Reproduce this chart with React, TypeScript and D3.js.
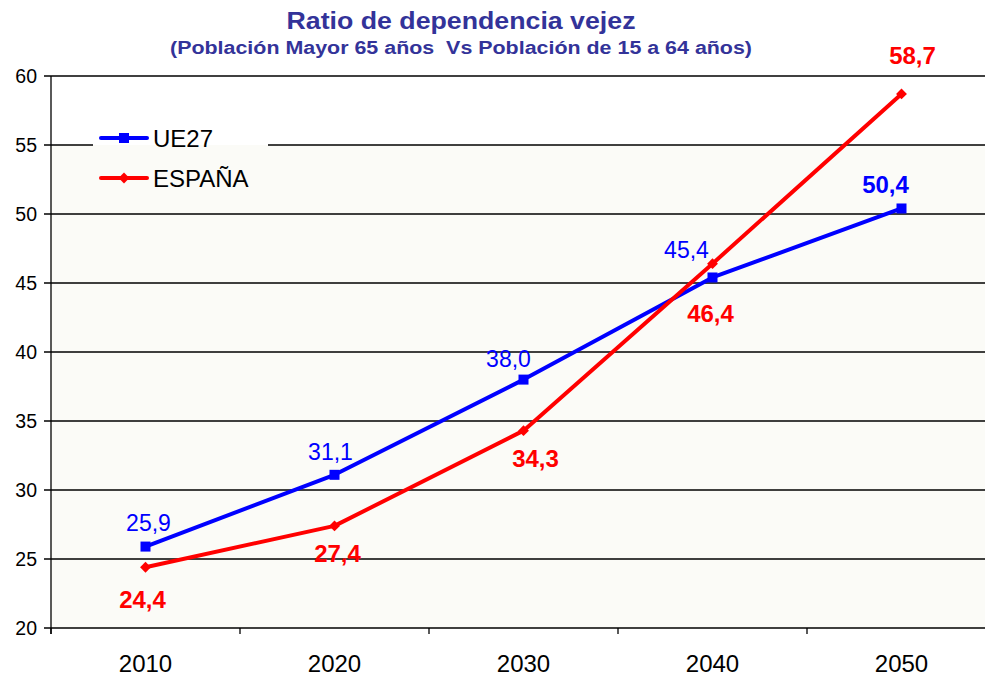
import React from 'react';
import * as d3 from 'd3';

const years = ['2010', '2020', '2030', '2040', '2050'];
const ue27 = [25.9, 31.1, 38.0, 45.4, 50.4];
const espana = [24.4, 27.4, 34.3, 46.4, 58.7];
const yTicks = [20, 25, 30, 35, 40, 45, 50, 55, 60];

// label placement next to each point (dx, dy)
const ueLabelPos = [[3, -16], [-4, -15], [-15, -13], [-26, -19], [-16, -15]];
const esLabelPos = [[-3, 41], [3, 36], [12, 36], [-2, 58], [11, -30]];

const W = 985, H = 678;
const left = 51, top = 76, bottom = 628;
const BLUE = '#0000ff', RED = '#ff0000';
const BG = '#fbfbf7';
const FONT = 'Arial, "Liberation Sans", sans-serif';

export default function App() {
  const x = d3.scaleBand().domain(years).range([left, left + 5 * 189]);
  const y = d3.scaleLinear().domain([20, 60]).range([bottom, top]);
  const cx = (yr: string) => (x(yr) as number) + x.bandwidth() / 2;

  const line = d3.line<number>().x((_, i) => cx(years[i])).y(d => y(d));
  const diamond = d3.symbol().type(d3.symbolDiamond2).size(75)();

  const legX = 101, legY1 = 138, legY2 = 178;

  return (
    <svg width={W} height={H} style={{ position: 'absolute', left: 0, top: 0 }} fontFamily={FONT}>
      <rect x={0} y={0} width={W} height={H} fill="#ffffff" />
      <rect x={left} y={y(55)} width={W - left} height={bottom - y(55)} fill={BG} />

      {/* gridlines */}
      {yTicks.map(t => (
        <line key={t} x1={left - 7} x2={W} y1={y(t)} y2={y(t)} stroke="#000" strokeWidth={1.3} />
      ))}

      {/* legend box hides the grid under it */}
      <rect x={93} y={118} width={175} height={y(55) - 118} fill="#ffffff" />
      <rect x={93} y={y(55)} width={175} height={200 - y(55)} fill={BG} />

      {/* axes */}
      <line x1={left} x2={left} y1={top} y2={bottom + 6} stroke="#000" strokeWidth={1.3} />
      {years.map(yr => (
        <line key={yr} x1={x(yr) as number} x2={x(yr) as number} y1={bottom} y2={bottom + 6} stroke="#000" strokeWidth={1.3} />
      ))}

      {yTicks.map(t => (
        <text key={t} x={37} y={y(t) + 7} textAnchor="end" fontSize={19.5} fill="#000">{t}</text>
      ))}
      {years.map(yr => (
        <text key={yr} x={cx(yr)} y={672} textAnchor="middle" fontSize={24} fill="#000">{yr}</text>
      ))}

      {/* title */}
      <text x={461} y={29} textAnchor="middle" fontSize={24} fontWeight="bold" fill="#333399"
        textLength={349} lengthAdjust="spacingAndGlyphs">Ratio de dependencia vejez</text>
      <text x={461} y={54} textAnchor="middle" fontSize={18} fontWeight="bold" fill="#333399"
        textLength={582} lengthAdjust="spacingAndGlyphs" style={{ whiteSpace: 'pre' }}>
        {'(Población Mayor 65 años  Vs Población de 15 a 64 años)'}
      </text>

      {/* series */}
      <path d={line(ue27) || ''} fill="none" stroke={BLUE} strokeWidth={4} strokeLinejoin="round" />
      {ue27.map((v, i) => (
        <rect key={i} x={cx(years[i]) - 5} y={y(v) - 5} width={10} height={10} fill={BLUE} />
      ))}
      <path d={line(espana) || ''} fill="none" stroke={RED} strokeWidth={4} strokeLinejoin="round" />
      {espana.map((v, i) => (
        <path key={i} d={diamond || ''} transform={`translate(${cx(years[i])},${y(v)})`} fill={RED} />
      ))}

      {/* data labels */}
      {ue27.map((v, i) => (
        <text key={i} x={cx(years[i]) + ueLabelPos[i][0]} y={y(v) + ueLabelPos[i][1]} textAnchor="middle"
          fontSize={i === 4 ? 24 : 23} fontWeight={i === 4 ? 'bold' : 'normal'} fill={BLUE}>
          {v.toFixed(1).replace('.', ',')}
        </text>
      ))}
      {espana.map((v, i) => (
        <text key={i} x={cx(years[i]) + esLabelPos[i][0]} y={y(v) + esLabelPos[i][1]} textAnchor="middle"
          fontSize={24} fontWeight="bold" fill={RED}>
          {v.toFixed(1).replace('.', ',')}
        </text>
      ))}

      {/* legend */}
      <line x1={legX} x2={legX + 46} y1={legY1} y2={legY1} stroke={BLUE} strokeWidth={4} strokeLinecap="round" />
      <rect x={legX + 18} y={legY1 - 5} width={10} height={10} fill={BLUE} />
      <text x={153} y={legY1 + 9} fontSize={24} fill="#000">UE27</text>
      <line x1={legX} x2={legX + 46} y1={legY2} y2={legY2} stroke={RED} strokeWidth={4} strokeLinecap="round" />
      <path d={diamond || ''} transform={`translate(${legX + 23},${legY2})`} fill={RED} />
      <text x={153} y={legY2 + 9} fontSize={24} fill="#000">ESPAÑA</text>
    </svg>
  );
}
